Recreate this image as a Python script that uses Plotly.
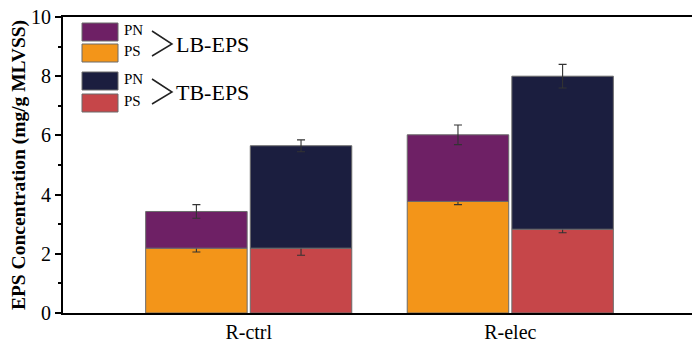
import plotly.graph_objects as go

categories = ["R-ctrl", "R-elec"]
lb_ps = [2.19, 3.77]
lb_ps_err = [0.13, 0.11]
lb_pn = [1.24, 2.25]
lb_pn_err = [0.23, 0.33]
tb_ps = [2.19, 2.83]
tb_ps_err = [0.24, 0.12]
tb_pn = [3.46, 5.17]
tb_pn_err = [0.20, 0.40]
tick_vals = [0, 2, 4, 6, 8, 10]

C_LB_PN = "#6E2065"
C_LB_PS = "#F39519"
C_TB_PN = "#1B1E3F"
C_TB_PS = "#C64649"
FONT = "Liberation Serif, Times New Roman, serif"
OUTLINE = dict(color="#6b6b6b", width=1)
ERR = dict(type="data", thickness=1.1, width=4, color="#333333")

fig = go.Figure()
fig.add_bar(x=categories, y=lb_ps, offsetgroup="LB", marker=dict(color=C_LB_PS, line=OUTLINE),
            error_y=dict(array=lb_ps_err, **ERR), name="LB PS")
fig.add_bar(x=categories, y=lb_pn, base=lb_ps, offsetgroup="LB", marker=dict(color=C_LB_PN, line=OUTLINE),
            error_y=dict(array=lb_pn_err, **ERR), name="LB PN")
fig.add_bar(x=categories, y=tb_ps, offsetgroup="TB", marker=dict(color=C_TB_PS, line=OUTLINE),
            error_y=dict(array=tb_ps_err, **ERR), name="TB PS")
fig.add_bar(x=categories, y=tb_pn, base=tb_ps, offsetgroup="TB", marker=dict(color=C_TB_PN, line=OUTLINE),
            error_y=dict(array=tb_pn_err, **ERR), name="TB PN")

# page is offset by the 8px body margin; plot area in page pixels:
OFF = 8
L, R, T, B = 63, 696, 17, 313
FW, FH = 700 - OFF, 344 - OFF
W, H = R - L, B - T
def px(x): return (x - L) / W
def py(y): return (B - y) / H

shapes = []
annotations = []
legend_items = [
    (23, 41, C_LB_PN, "PN"),
    (44, 62, C_LB_PS, "PS"),
    (72, 90, C_TB_PN, "PN"),
    (94, 112, C_TB_PS, "PS"),
]
for y0, y1, col, lab in legend_items:
    shapes.append(dict(type="rect", xref="paper", yref="paper", x0=px(82), x1=px(118), y0=py(y1), y1=py(y0),
                       fillcolor=col, line=dict(color="#6b6b6b", width=1)))
    annotations.append(dict(xref="paper", yref="paper", x=px(122), y=py((y0 + y1) / 2 - 2), text=lab,
                            showarrow=False, xanchor="left", yanchor="middle",
                            font=dict(family=FONT, size=15, color="black")))
for yc, lab in [(44, "LB-EPS"), (92, "TB-EPS")]:
    shapes.append(dict(type="path", xref="paper", yref="paper",
                       path=f"M {px(152)} {py(yc-13)} L {px(172)} {py(yc)} L {px(152)} {py(yc+12)}",
                       line=dict(color="#222222", width=1.5)))
    annotations.append(dict(xref="paper", yref="paper", x=px(174), y=py(yc), text=lab,
                            showarrow=False, xanchor="left", yanchor="middle",
                            font=dict(family=FONT, size=22, color="black")))

fig.update_layout(
    width=FW, height=FH,
    margin=dict(l=L - OFF, r=700 - R, t=T - OFF, b=344 - B, autoexpand=False),
    paper_bgcolor="white", plot_bgcolor="white",
    barmode="group", bargap=0.2, bargroupgap=0.03,
    showlegend=False,
    shapes=shapes, annotations=annotations,
    font=dict(family=FONT, color="black"),
)
fig.update_xaxes(range=[-0.71, 1.71], showline=True, linecolor="black", linewidth=2, mirror=True,
                 ticks="", tickfont=dict(family=FONT, size=20), showgrid=False, automargin=False)
fig.update_yaxes(range=[0, 10], tickvals=tick_vals, showline=True, linecolor="black", linewidth=2, mirror=True,
                 ticks="outside", ticklen=6, tickwidth=1.5, tickcolor="black", ticklabeloverflow="allow",
                 automargin=False,
                 minor=dict(ticks="outside", ticklen=3, tickwidth=1.5, tickcolor="black", dtick=1, showgrid=False),
                 tickfont=dict(family=FONT, size=20), showgrid=False, zeroline=False,
                 title=dict(text="<b>EPS Concentration (mg/g MLVSS)</b>", font=dict(family=FONT, size=19.5), standoff=5))

fig.write_html("out.html")
